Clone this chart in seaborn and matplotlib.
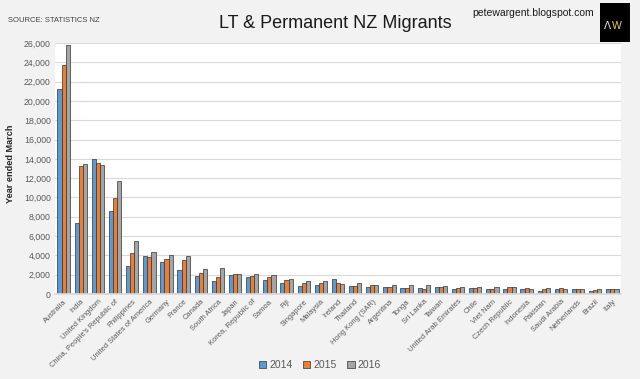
import matplotlib
matplotlib.use("Agg")
import matplotlib.pyplot as plt
import seaborn as sns
import pandas as pd
from matplotlib.patches import Rectangle

countries = ["Australia", "India", "United Kingdom", "China, People's Republic of", "Philippines",
             "United States of America", "Germany", "France", "Canada", "South Africa", "Japan",
             "Korea, Republic of", "Samoa", "Fiji", "Singapore", "Malaysia", "Ireland", "Thailand",
             "Hong Kong (SAR)", "Argentina", "Tonga", "Sri Lanka", "Taiwan", "United Arab Emirates",
             "Chile", "Viet Nam", "Czech Republic", "Indonesia", "Pakistan", "Saudi Arabia",
             "Netherlands", "Brazil", "Italy"]
v2014 = [21200, 7400, 14000, 8600, 2900, 3950, 3350, 2500, 1870, 1390, 1940,
         1730, 1460, 1140, 870, 940, 1530, 800, 730, 700, 660, 620, 730, 520,
         620, 520, 520, 520, 280, 480, 480, 280, 480]
v2015 = [23700, 13300, 13600, 9950, 4200, 3880, 3600, 3540, 2150, 1730, 2110,
         1870, 1770, 1460, 1140, 1110, 1140, 800, 940, 730, 660, 520, 730, 590,
         620, 520, 690, 620, 480, 620, 480, 420, 520]
v2016 = [25800, 13500, 13400, 11750, 5500, 4300, 4000, 3900, 2630, 2700, 2100,
         2080, 1940, 1530, 1350, 1380, 1000, 1110, 940, 900, 900, 940, 800, 730,
         690, 730, 690, 520, 620, 480, 520, 480, 480]
years = ["2014", "2015", "2016"]
yticks = list(range(0, 26001, 2000))

rows = []
for yr, vals in zip(years, [v2014, v2015, v2016]):
    for c, v in zip(countries, vals):
        rows.append({"Country": c, "Year": yr, "Value": v})
df = pd.DataFrame(rows)

sns.set_theme(style="white")
plt.rcParams['font.family'] = ['Liberation Sans', 'DejaVu Sans']

BG = "#f2f2f2"
fig = plt.figure(figsize=(6.4, 3.79), dpi=100, facecolor=BG)
W, H = 640, 379
left, right, top, bottom = 55, 621, 43, 294
ax = fig.add_axes([left / W, 1 - bottom / H, (right - left) / W, (bottom - top) / H])
ax.set_facecolor("white")

palette = {"2014": "#5b9bd5", "2015": "#ed7d31", "2016": "#a5a5a5"}
sns.barplot(data=df, x="Country", y="Value", hue="Year", palette=palette, ax=ax,
            width=0.72, edgecolor="#333333", linewidth=0.5, saturation=1, legend=True)

ax.set_ylim(0, 26000)
ax.set_xlim(-0.5, len(countries) - 0.5)
ax.set_yticks(yticks)
ax.set_yticklabels([f"{t:,}" for t in yticks], fontsize=6.3, color="#595959")
ax.yaxis.grid(True, color="#d9d9d9", linewidth=0.8)
ax.set_axisbelow(True)
ax.tick_params(axis="both", length=0, pad=3)
ax.set_xticks(range(len(countries)))
ax.set_xticklabels(countries, rotation=45, ha="right", rotation_mode="anchor",
                   fontsize=5.4, color="#595959")
for s in ["top", "right", "left"]:
    ax.spines[s].set_visible(False)
ax.spines["bottom"].set_color("#d9d9d9")
ax.set_xlabel("")
ax.set_ylabel("Year ended March", fontsize=6.6, fontweight="bold", color="#262626")
ax.yaxis.set_label_coords((15 - left) / (right - left), (bottom - 163.5) / (bottom - top))

leg = ax.legend(loc="center", bbox_to_anchor=(320 / W, 1 - 365 / H),
                bbox_transform=fig.transFigure, ncol=3, frameon=False,
                fontsize=7.5, handlelength=0.7, handleheight=0.7, handletextpad=0.3,
                columnspacing=1.0)
for t in leg.get_texts():
    t.set_color("#595959")

fig.text(335 / W, 1 - 24 / H, "LT & Permanent NZ Migrants", ha="center", va="center",
         fontsize=13, color="#1a1a1a")
fig.text(8 / W, 1 - 20 / H, "SOURCE: STATISTICS NZ", ha="left", va="center",
         fontsize=5.5, color="#404040")
fig.text(594 / W, 1 - 13 / H, "petewargent.blogspot.com", ha="right", va="center",
         fontsize=7.5, color="#1a1a1a")
fig.patches.append(Rectangle((600 / W, 1 - 42 / H), 30 / W, 39 / H,
                             transform=fig.transFigure, facecolor="black", edgecolor="none"))
fig.text(607 / W, 1 - 26 / H, "Λ", ha="center", va="center", fontsize=7.5,
         color="#e8e8e8", family=['DejaVu Sans'])
fig.text(617 / W, 1 - 26 / H, "W", ha="center", va="center", fontsize=7.5,
         color="#e6d15a")

fig.savefig("out.png", dpi=100, facecolor=BG)
